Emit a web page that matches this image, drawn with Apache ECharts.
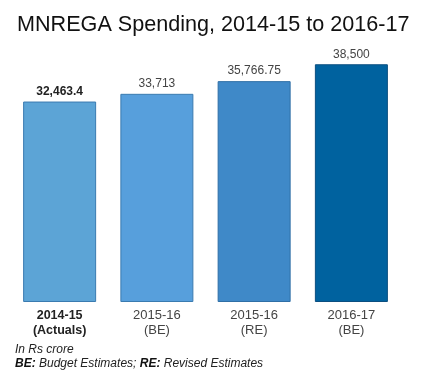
<!DOCTYPE html>
<html>
<head>
<meta charset="utf-8">
<script src="https://cdn.jsdelivr.net/npm/echarts@6/dist/echarts.min.js"></script>
<style>
  html, body { margin: 0; padding: 0; background: #fff; }
  #chart { width: 423px; height: 377px; }
</style>
</head>
<body>
<div id="chart"></div>
<script>
// data
const categories = ['2014-15\n(Actuals)', '2015-16\n(BE)', '2015-16\n(RE)', '2016-17\n(BE)'];
const values = [32463.4, 33713, 35766.75, 38500];
const valueLabels = ['32,463.4', '33,713', '35,766.75', '38,500'];
const barColors = ['#5ca4d6', '#579fdc', '#3f89c8', '#00629f'];
const borderColors = ['#3a7bb0', '#3a7bb0', '#2f6fa6', '#0b4f80'];

const font = 'Arial, "Liberation Sans", sans-serif';

const myChart = echarts.init(document.getElementById('chart'));

myChart.setOption({
  animation: false,
  title: {
    text: 'MNREGA Spending, 2014-15 to 2016-17',
    left: 12,
    top: 9,
    textStyle: { fontFamily: font, fontSize: 21.6, fontWeight: 'normal', color: '#111' },
  },
  grid: { left: 11, right: 23, top: 55, bottom: 75 },
  xAxis: {
    type: 'category',
    data: categories,
    axisLine: { show: false },
    axisTick: { show: false },
    axisLabel: {
      margin: 6,
      fontFamily: font,
      fontSize: 13,
      lineHeight: 15,
      color: '#444',
      formatter: (v, i) => (i === 0 ? '{b|' + v.replace('\n', '}\n{b|') + '}' : v),
      rich: { b: { fontFamily: font, fontSize: 12.5, lineHeight: 15, fontWeight: 'bold', color: '#222' } },
    },
  },
  yAxis: {
    type: 'value',
    min: 0,
    max: 40000,
    show: false,
    splitLine: { show: false },
  },
  series: [
    {
      type: 'bar',
      barWidth: 73,
      data: values.map((v, i) => ({
        value: v,
        itemStyle: { color: barColors[i], borderColor: borderColors[i], borderWidth: 1 },
        label: {
          fontWeight: i === 0 ? 'bold' : 'normal',
          color: i === 0 ? '#222' : '#444',
        },
      })),
      label: {
        show: true,
        position: 'top',
        distance: 4,
        fontFamily: font,
        fontSize: 12,
        formatter: p => valueLabels[p.dataIndex],
      },
    },
  ],
  graphic: [
    {
      type: 'text',
      left: 15,
      top: 344,
      style: { text: 'In Rs crore', font: 'italic 12px ' + font, fill: '#222' },
    },
    {
      type: 'text',
      left: 15,
      top: 358,
      style: {
        text: '{b|BE:} Budget Estimates; {b|RE:} Revised Estimates',
        font: 'italic 12px ' + font,
        fill: '#222',
        rich: { b: { font: 'italic bold 12px ' + font, fill: '#111' } },
      },
    },
  ],
});
</script>
</body>
</html>
